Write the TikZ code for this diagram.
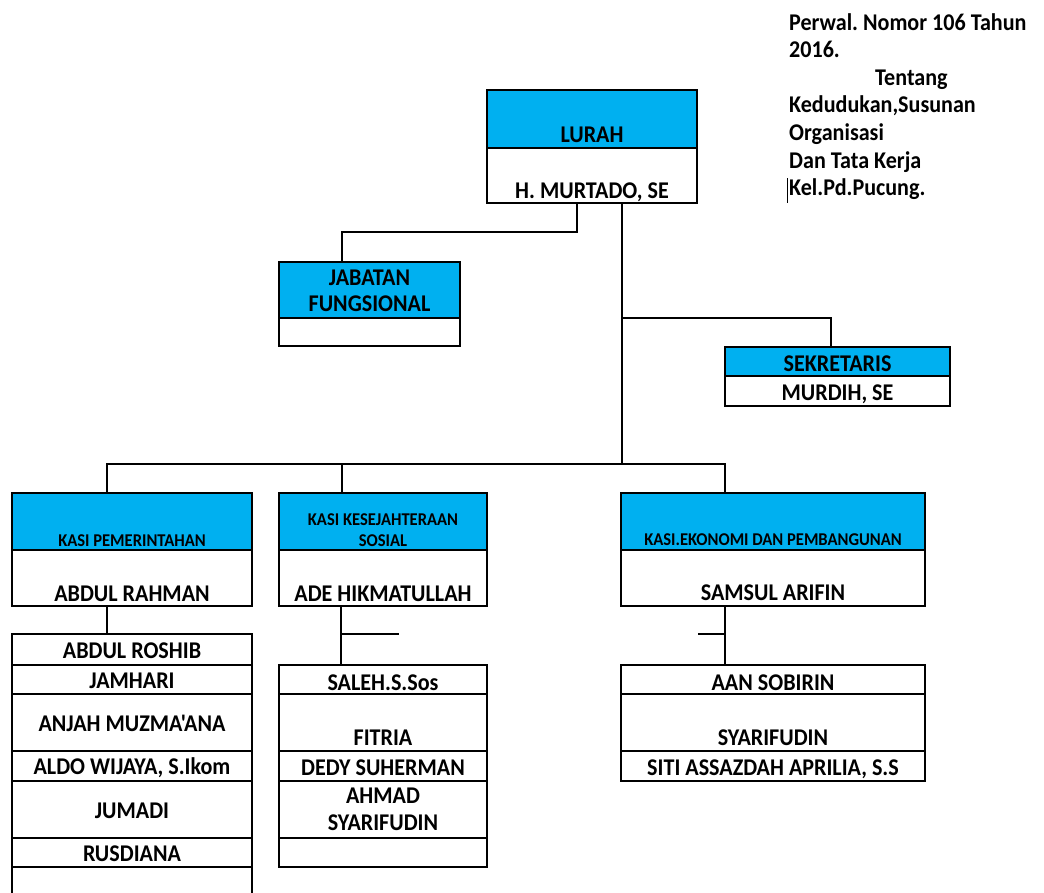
\documentclass[tikz,border=0pt]{standalone}
\usepackage{fontspec}
\newfontfamily\cfont{Carlito}[FakeStretch=0.92]
\frenchspacing
\definecolor{hdr}{HTML}{00B0F0}
\newcommand\cell[6]{\node[cellbox, fill=#6, minimum width={#4pt-#2pt}, minimum height={#5pt-#3pt}, anchor=north west] (#1) at (#2,#3) {};}
\tikzset{
  cellbox/.style={draw=black, line width=1.3pt, inner sep=0pt, outer sep=0pt},
  conn/.style={draw=black, line width=1.3pt},
  lbl/.style={anchor=base, inner sep=0pt, font=\cfont\fontsize{24}{28}\selectfont\bfseries},
  small/.style={anchor=base, inner sep=0pt, font=\cfont\fontsize{18}{21}\selectfont\bfseries},
  note/.style={anchor=base west, inner sep=0pt, font=\cfont\fontsize{24}{28}\selectfont\bfseries}
}
\begin{document}
\begin{tikzpicture}[x=1pt,y=-1pt]
\useasboundingbox (0,0) rectangle (1044,892);
\clip (0,0) rectangle (1044,892);
% LURAH
\cell{lurahT}{487}{90}{697}{148}{hdr}
\cell{lurahB}{487}{148}{697}{203}{white}
\node[lbl] (t1) at (592,142) {LURAH};
\node[lbl] (t2) at (592,198) {H. MURTADO, SE};
% JABATAN FUNGSIONAL
\cell{jabT}{279}{262}{460}{318}{hdr}
\cell{jabB}{279}{318}{460}{346}{white}
\node[lbl] (t3) at (369.5,285) {JABATAN};
\node[lbl] (t4) at (369.5,311.5) {FUNGSIONAL};
% SEKRETARIS
\cell{sekT}{725}{347}{950}{376}{hdr}
\cell{sekB}{725}{376}{950}{406}{white}
\node[lbl] (t5) at (837.5,371.5) {SEKRETARIS};
\node[lbl] (t6) at (837.5,400) {MURDIH, SE};
% KASI PEMERINTAHAN
\cell{kp1}{12}{493}{252}{550}{hdr}
\cell{kp2}{12}{550}{252}{606}{white}
\node[small] (t7) at (132,546) {KASI PEMERINTAHAN};
\node[lbl] (t8) at (132,601.5) {ABDUL RAHMAN};
% KASI KESEJAHTERAAN
\cell{kk1}{279}{493}{487}{550}{hdr}
\cell{kk2}{279}{550}{487}{606}{white}
\node[small] (t9) at (383,525) {KASI KESEJAHTERAAN};
\node[small] (t10) at (383,546) {SOSIAL};
\node[lbl] (t11) at (383,601.5) {ADE HIKMATULLAH};
% KASI EKONOMI
\cell{ke1}{621}{493}{925}{550}{hdr}
\cell{ke2}{621}{550}{925}{606}{white}
\node[small] (t12) at (773,545) {KASI.EKONOMI DAN PEMBANGUNAN};
\node[lbl] (t13) at (773,600.5) {SAMSUL ARIFIN};
% left list
\cell{L1}{12}{634}{252}{665}{white}
\cell{L2}{12}{665}{252}{694}{white}
\cell{L3}{12}{694}{252}{751}{white}
\cell{L4}{12}{751}{252}{781}{white}
\cell{L5}{12}{781}{252}{838}{white}
\cell{L6}{12}{838}{252}{867}{white}
\cell{L7}{12}{867}{252}{905}{white}
\node[lbl] (u1) at (132,658) {ABDUL ROSHIB};
\node[lbl] (u2) at (132,688) {JAMHARI};
\node[lbl] (u3) at (132,731.5) {ANJAH MUZMA'ANA};
\node[lbl] (u4) at (132,774) {ALDO WIJAYA, S.Ikom};
\node[lbl] (u5) at (132,818) {JUMADI};
\node[lbl] (u6) at (132,861.5) {RUSDIANA};
% middle list
\cell{M1}{279}{665}{487}{694}{white}
\cell{M2}{279}{694}{487}{751}{white}
\cell{M3}{279}{751}{487}{781}{white}
\cell{M4}{279}{781}{487}{838}{white}
\cell{M5}{279}{838}{487}{867}{white}
\node[lbl] (v1) at (383,690) {SALEH.S.Sos};
\node[lbl] (v2) at (383,745) {FITRIA};
\node[lbl] (v3) at (383,775.5) {DEDY SUHERMAN};
\node[lbl] (v4) at (383,803) {AHMAD};
\node[lbl] (v5) at (383,830.5) {SYARIFUDIN};
% right list
\cell{R1}{621}{665}{925}{694}{white}
\cell{R2}{621}{694}{925}{751}{white}
\cell{R3}{621}{751}{925}{781}{white}
\node[lbl] (w1) at (773,690) {AAN SOBIRIN};
\node[lbl] (w2) at (773,745) {SYARIFUDIN};
\node[lbl] (w3) at (773,775.5) {SITI ASSAZDAH APRILIA, S.S};
% connectors
\coordinate (jb) at (342,232);
\coordinate (sb) at (622,318);
\coordinate (barL) at (107,464);
\coordinate (barM) at (342,464);
\coordinate (barR) at (725,464);
\coordinate (barC) at (622,464);
\coordinate (stubM) at (399,634);
\coordinate (stubR) at (698,634);
\draw[conn] (lurahB.south -| 577,0) |- (jb) -- (jabT.north -| jb);
\draw[conn] (lurahB.south -| barC) -- (barC);
\draw[conn] (sb) -| (sekT.north -| 831,0);
\draw[conn] (kp1.north -| barL) -- (barL) -- (barR) -- (ke1.north -| barR);
\draw[conn] (barM) -- (kk1.north -| barM);
\draw[conn] (kp2.south -| barL) -- (L1.north -| barL);
\draw[conn] (kk2.south -| 341,0) -- (M1.north -| 341,0);
\draw[conn] (stubM -| 341,0) -- (stubM);
\draw[conn] (ke2.south -| barR) -- (R1.north -| barR);
\draw[conn] (stubR) -- (stubR -| barR);
% note
\node[note] (n1) at (789,30) {Perwal. Nomor 106 Tahun};
\node[note] (n2) at (789,57) {2016.};
\node[note] (n3) at (875,85) {Tentang};
\node[note] (n4) at (789,112) {Kedudukan,Susunan};
\node[note] (n5) at (789,140) {Organisasi};
\node[note] (n6) at (789,168) {Dan Tata Kerja};
\node[note] (n7) at (789,195) {Kel.Pd.Pucung.};
\coordinate (cur) at (787.5,178);
\draw[line width=1pt] (cur) -- ++(0,25);
\end{tikzpicture}
\end{document}
